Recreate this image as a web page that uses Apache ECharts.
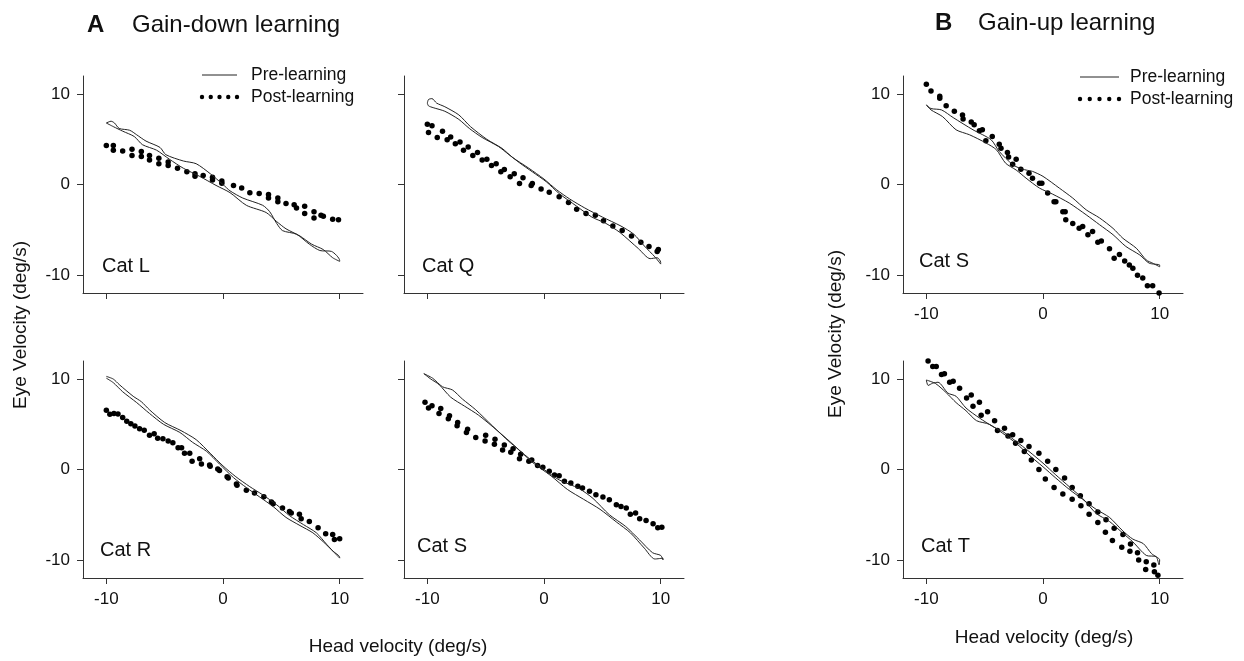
<!DOCTYPE html>
<html><head><meta charset="utf-8">
<script src="https://cdn.jsdelivr.net/npm/echarts@6/dist/echarts.min.js"></script>
<style>html,body{margin:0;padding:0;background:#fff}#c{width:1244px;height:661px}</style>
</head><body><div id="c"></div>
<script>
// ---------- data ----------
const tickValues = [-10, 0, 10];

const catL_pre = [[-10,6.8],[-9.6,7.0],[-9.3,6.8],[-8.9,6.2],[-8.0,6.0],[-7.4,5.5],[-6.6,4.8],[-5.4,4.1],[-4.9,3.3],[-3.4,2.6],[-2.3,2.3],[-1.1,1.2],[0,0.0],[0.6,-0.7],[1.7,-1.5],[3.4,-2.3],[4.0,-3.0],[4.6,-4.3],[5.1,-5.1],[6.3,-5.5],[7.4,-6.6],[8.3,-7.3],[9.3,-7.4],[10,-8.4],
  [10,-8.5],[9.4,-8.1],[8.6,-7.2],[7.6,-6.6],[6.6,-5.7],[5.4,-4.9],[4.6,-4.1],[3.7,-3.1],[2.0,-2.3],[0.6,-0.9],[-0.6,-0.1],[-2.0,0.9],[-3.4,1.8],[-4.6,2.8],[-5.7,3.8],[-6.9,4.4],[-7.6,5.3],[-8.6,5.9],[-9.4,6.4],[-10,6.8]];
const catL_post = [[-10,4.3],[-9.4,4.3],[-9.4,3.8],[-8.6,3.7],[-7.8,3.9],[-7.8,3.2],[-7.0,3.65],[-7.0,3.1],[-6.3,3.2],[-6.3,2.7],[-5.5,2.9],[-5.5,2.3],[-4.7,2.5],[-4.7,2.1],[-3.9,1.8],[-3.1,1.4],[-2.4,1.2],[-2.4,0.9],[-1.7,1.0],[-0.9,0.8],[-0.9,0.5],[-0.1,0.4],[-0.1,0.15],[0.9,-0.1],[1.6,-0.4],[2.3,-0.9],[3.1,-1.0],[3.9,-1.1],[3.9,-1.5],[4.7,-1.5],[4.7,-1.9],[5.4,-2.1],[6.1,-2.25],[6.3,-2.6],[7.0,-2.4],[7.0,-3.2],[7.8,-3.0],[7.8,-3.7],[8.4,-3.4],[8.6,-3.5],[9.4,-3.85],[9.9,-3.9]];

const catQ_pre = [[-10,9.0],[-9.9,9.4],[-9.6,9.5],[-9.2,9.0],[-8.5,8.6],[-7.3,7.7],[-6.3,6.4],[-4.9,5.0],[-3.6,4.0],[-2.7,3.0],[-1.3,1.8],[0,0.6],[1.1,-0.6],[2.2,-1.6],[3.5,-2.6],[5.0,-3.6],[6.6,-4.6],[7.7,-5.5],[8.6,-6.8],[9.5,-8.0],[10,-8.8],
  [10,-8.6],[9.7,-8.1],[9.1,-8.2],[8.1,-7.1],[6.5,-5.3],[5.3,-4.3],[4.1,-3.6],[2.8,-2.4],[1.3,-1.0],[0.2,0.3],[-1.0,1.4],[-2.1,2.4],[-3.0,3.3],[-3.9,4.2],[-5.3,5.2],[-6.4,6.2],[-7.3,7.2],[-8.5,8.1],[-9.5,8.5],[-9.9,8.7],[-10,9.0]];
const catQ_post = [[-10,6.65],[-9.6,6.5],[-9.9,5.75],[-9.15,5.2],[-8.7,5.9],[-8.3,4.95],[-8.0,5.25],[-7.6,4.5],[-7.2,4.7],[-6.9,3.8],[-6.5,4.15],[-6.1,3.2],[-5.7,3.55],[-5.3,2.7],[-4.9,2.8],[-4.5,2.1],[-4.1,2.3],[-3.7,1.4],[-3.4,1.65],[-2.9,0.85],[-2.55,1.2],[-2.1,0.1],[-1.8,0.75],[-1.1,-0.1],[-1.0,0.1],[-0.25,-0.5],[0.45,-0.85],[1.3,-1.35],[2.1,-2.0],[2.8,-2.75],[3.6,-3.2],[4.4,-3.4],[5.1,-4.0],[5.9,-4.6],[6.7,-5.1],[7.5,-5.7],[8.3,-6.4],[9.0,-6.85],[9.8,-7.2],[9.7,-7.4]];

const catR_pre = [[-10,10.3],[-9.4,10.0],[-8.9,9.4],[-7.7,8.1],[-7.0,7.5],[-6.3,6.6],[-5.0,5.2],[-3.6,4.3],[-2.3,3.3],[-1.1,1.8],[0,0.4],[1.1,-0.8],[2.3,-1.9],[3.4,-2.8],[4.6,-3.9],[5.7,-5.1],[6.9,-6.1],[8.0,-7.0],[8.9,-8.3],[9.7,-9.4],[10,-9.8],
  [10,-9.7],[9.4,-9.0],[8.6,-8.0],[7.7,-7.0],[6.6,-6.2],[5.4,-5.3],[4.3,-4.1],[3.1,-3.0],[2.0,-2.0],[0.9,-0.9],[-0.3,0.6],[-1.4,2.0],[-2.6,3.0],[-3.7,4.1],[-5.1,5.0],[-6.3,6.2],[-7.4,7.4],[-8.6,8.6],[-9.4,9.6],[-10,10.1]];
const catR_post = [[-10,6.55],[-9.7,6.1],[-9.35,6.2],[-9.0,6.15],[-8.6,5.75],[-8.25,5.35],[-7.9,5.05],[-7.55,4.8],[-7.15,4.5],[-6.75,4.35],[-6.3,3.8],[-5.9,3.95],[-5.6,3.45],[-5.15,3.4],[-4.7,3.15],[-4.3,2.95],[-3.85,2.4],[-3.55,2.4],[-3.3,1.8],[-2.85,1.8],[-2.65,0.9],[-2.0,1.2],[-1.85,0.6],[-1.15,0.5],[-1.1,0.35],[-0.45,0.05],[-0.3,-0.1],[0.35,-0.8],[0.45,-0.95],[1.15,-1.6],[1.2,-1.75],[2.0,-2.3],[2.7,-2.6],[3.5,-3.0],[4.15,-3.6],[4.3,-3.8],[5.1,-4.25],[5.7,-4.65],[5.85,-4.8],[6.55,-4.95],[6.7,-5.45],[7.4,-5.75],[8.15,-6.45],[8.8,-7.1],[9.4,-7.2],[9.55,-7.75],[10.0,-7.65]];

const catSa_pre = [[-10.3,10.6],[-9.55,10.1],[-8.7,9.15],[-7.85,8.8],[-7.0,7.8],[-5.85,6.6],[-4.4,4.8],[-3.0,3.1],[-1.25,1.2],[0,0],[1.3,-1.15],[3.0,-2.1],[4.2,-3.2],[5.6,-5.0],[7.0,-6.3],[8.2,-7.8],[9.3,-9.2],[10.0,-9.5],[10.2,-10.0],
  [10.2,-9.8],[9.5,-9.9],[8.6,-8.7],[7.4,-7.0],[6.2,-5.8],[4.8,-4.4],[3.4,-3.3],[2.0,-2.2],[0.6,-0.7],[-1.0,0.8],[-2.5,2.6],[-4.0,4.3],[-5.6,6.0],[-6.8,7.0],[-8.0,8.0],[-9.0,9.4],[-9.7,10.0],[-10.3,10.6]];
const catSa_post = [[-10.2,7.45],[-9.9,6.8],[-9.6,7.05],[-9.0,6.2],[-8.85,6.75],[-8.2,5.6],[-8.1,5.95],[-7.45,4.85],[-7.4,5.2],[-6.65,4.1],[-6.55,4.45],[-5.85,3.55],[-5.05,3.15],[-5.0,3.8],[-4.25,2.8],[-4.2,3.35],[-3.55,2.15],[-3.4,2.7],[-2.85,1.9],[-2.65,2.3],[-2.1,1.2],[-2.0,1.7],[-1.3,0.9],[-1.05,1.05],[-0.55,0.45],[-0.1,0.25],[0.45,-0.2],[0.9,-0.6],[1.3,-0.7],[1.75,-1.3],[2.3,-1.5],[2.9,-1.85],[3.3,-2.05],[3.9,-2.4],[4.45,-2.8],[5.05,-3.05],[5.6,-3.35],[6.2,-3.9],[6.6,-4.1],[7.05,-4.25],[7.4,-4.95],[7.85,-4.8],[8.2,-5.45],[8.75,-5.65],[9.35,-6.0],[9.75,-6.45],[10.1,-6.4]];

const catSb_pre = [[-10,8.8],[-9.6,8.4],[-8.7,8.25],[-7.7,7.4],[-6.0,6.05],[-4.45,4.95],[-3.75,3.65],[-2.6,2.2],[-2.0,1.8],[-1.45,1.6],[-0.9,1.45],[0,0.9],[1.4,-0.4],[2.55,-1.5],[3.7,-2.8],[4.85,-3.7],[6.0,-4.85],[6.85,-5.95],[8.0,-7.05],[8.85,-8.35],[9.4,-8.7],[10,-9.1],
  [10,-8.9],[9.1,-8.7],[8.3,-7.8],[7.1,-6.85],[6.0,-5.55],[4.85,-4.45],[3.7,-3.35],[2.25,-2.05],[0.8,-1.05],[-0.3,-0.4],[-1.45,0.7],[-2.3,1.6],[-3.2,2.35],[-4.0,3.85],[-4.9,4.6],[-6.3,5.5],[-7.45,6.05],[-8.6,7.5],[-9.6,8.25],[-10,8.8]];
const catSb_post = [[-10,11.1],[-9.6,10.35],[-8.85,9.75],[-8.85,9.55],[-8.3,8.7],[-7.6,8.1],[-6.9,7.7],[-6.85,7.25],[-6.15,6.9],[-5.9,6.6],[-5.45,5.95],[-5.2,6.05],[-4.9,4.85],[-4.35,5.3],[-3.75,4.45],[-3.6,4.0],[-3.05,3.55],[-2.95,3.05],[-2.6,2.25],[-2.3,2.8],[-1.9,1.7],[-1.2,1.25],[-0.9,0.7],[-0.3,0.15],[-0.1,0.15],[0.4,-0.95],[0.95,-1.9],[1.1,-1.9],[1.7,-3.0],[1.9,-3.0],[1.95,-3.9],[2.55,-4.3],[3.1,-4.85],[3.4,-4.65],[3.85,-5.55],[4.25,-5.2],[4.7,-6.4],[5.0,-6.25],[5.7,-7.1],[6.1,-8.15],[6.55,-7.75],[7.0,-8.45],[7.4,-8.9],[7.7,-9.25],[8.1,-10.05],[8.55,-10.35],[8.95,-11.2],[9.4,-11.2],[9.95,-12.0]];

const catT_pre = [[-10,9.9],[-9.85,9.3],[-9.45,9.55],[-9.0,9.65],[-8.15,8.45],[-7.45,8.1],[-6.6,6.8],[-5.45,5.7],[-4.3,4.75],[-3.45,4.2],[-2.3,3.1],[-1.2,2.0],[0,0.7],[1.1,-0.6],[2.25,-1.9],[3.4,-3.2],[4.55,-4.85],[5.7,-5.75],[6.85,-7.05],[7.7,-8.0],[8.85,-9.5],[9.7,-9.65],[9.95,-10.55],
  [10,-10.0],[9.3,-9.3],[8.6,-8.2],[7.7,-7.7],[6.85,-6.8],[5.7,-5.3],[4.55,-4.4],[3.4,-3.3],[2.25,-2.2],[1.1,-0.95],[0,0.3],[-1.2,1.6],[-2.3,2.9],[-3.45,4.0],[-4.6,5.0],[-5.7,5.4],[-6.6,6.5],[-7.45,7.4],[-8.3,8.5],[-9.2,9.5],[-10,9.9]];
const catT_post = [[-9.85,12.0],[-9.45,11.4],[-9.15,11.4],[-8.7,10.5],[-8.45,10.6],[-8.0,9.65],[-7.7,9.75],[-7.15,9.0],[-6.55,7.9],[-6.15,8.25],[-6.0,7.0],[-5.45,7.45],[-5.3,6.0],[-4.75,6.4],[-4.15,5.4],[-3.9,4.3],[-3.3,4.55],[-3.0,3.7],[-2.6,3.85],[-2.35,2.9],[-1.9,3.2],[-1.6,2.0],[-1.2,2.55],[-1.0,1.05],[-0.35,1.8],[-0.35,0.0],[0.2,-1.05],[0.4,0.9],[0.95,-2.0],[1.1,0.0],[1.7,-2.7],[1.85,-0.95],[2.5,-3.3],[2.5,-2.0],[3.2,-2.9],[3.25,-4.0],[3.95,-4.95],[3.95,-3.8],[4.7,-4.7],[4.7,-5.85],[5.35,-6.95],[5.4,-5.55],[5.95,-7.85],[6.1,-6.5],[6.75,-8.6],[6.85,-7.2],[7.45,-9.05],[7.5,-8.25],[8.1,-9.2],[8.2,-10.0],[8.8,-11.05],[8.85,-10.2],[9.5,-10.55],[9.55,-11.3],[9.85,-11.7]];

const panelNames = ['Cat L','Cat Q','Cat R','Cat S','Cat S','Cat T'];
const preSeries  = [catL_pre, catQ_pre, catR_pre, catSa_pre, catSb_pre, catT_pre];
const postSeries = [catL_post, catQ_post, catR_post, catSa_post, catSb_post, catT_post];

// ---------- layout ----------
const FONT = '"Liberation Sans", Arial, Helvetica, sans-serif';
const layout = [
  {left:83,  top:76,  xl:false, yl:true,  lx:102, ly:267},
  {left:404, top:76,  xl:false, yl:false, lx:422, ly:267},
  {left:83,  top:361, xl:true,  yl:true,  lx:100, ly:551},
  {left:404, top:361, xl:true,  yl:false, lx:417, ly:547},
  {left:903, top:76,  xl:true,  yl:true,  lx:919, ly:262},
  {left:903, top:361, xl:true,  yl:true,  lx:921, ly:547}
];
const W = 280, H = 217;
const axisColor = '#333';

const grids = [], xAxes = [], yAxes = [], series = [], graphics = [];
layout.forEach((p, i) => {
  grids.push({left:p.left, top:p.top, width:W, height:H});
  const common = {
    type:'value', gridIndex:i, min:-12, max:12,
    axisLine:{show:true, onZero:false, lineStyle:{color:axisColor, width:1}},
    axisTick:{show:true, customValues:tickValues, length:6, lineStyle:{color:axisColor, width:1}},
    splitLine:{show:false}
  };
  xAxes.push(Object.assign({}, common, {
    axisLabel:{show:p.xl, customValues:tickValues, fontSize:17, color:'#111', margin:13, fontFamily:FONT}
  }));
  yAxes.push(Object.assign({}, common, {
    axisLabel:{show:p.yl, customValues:tickValues, fontSize:17, color:'#111', margin:13, fontFamily:FONT}
  }));
  series.push({
    name:'Pre-learning', type:'line', xAxisIndex:i, yAxisIndex:i,
    data:preSeries[i], showSymbol:false, smooth:0.25,
    lineStyle:{color:'#222', width:1}, silent:true, animation:false
  });
  series.push({
    name:'Post-learning', type:'scatter', xAxisIndex:i, yAxisIndex:i,
    data:postSeries[i], symbolSize:5.5, itemStyle:{color:'#000', opacity:1}, silent:true, animation:false
  });
  graphics.push({type:'text', left:p.lx, top:p.ly - 11,
    style:{text:panelNames[i], font:'20px ' + FONT, fill:'#111'}});
});

function txt(x, y, s, size, opts) {
  return Object.assign({type:'text', x:x, y:y,
    style:Object.assign({text:s, font:size + 'px ' + FONT, fill:'#111', textVerticalAlign:'middle'}, opts || {})});
}
// titles
graphics.push(txt(87, 25, 'A', 24, {font:'bold 24px ' + FONT}));
graphics.push(txt(132, 25, 'Gain-down learning', 24));
graphics.push(txt(935, 23, 'B', 24, {font:'bold 24px ' + FONT}));
graphics.push(txt(978, 23, 'Gain-up learning', 24));
// axis titles
graphics.push(txt(398, 647, 'Head velocity (deg/s)', 19, {textAlign:'center'}));
graphics.push(txt(1044, 638, 'Head velocity (deg/s)', 19, {textAlign:'center'}));
graphics.push({type:'text', x:21, y:325, rotation:Math.PI/2,
  style:{text:'Eye Velocity (deg/s)', font:'19px ' + FONT, fill:'#111', textAlign:'center', textVerticalAlign:'middle'}});
graphics.push({type:'text', x:836, y:334, rotation:Math.PI/2,
  style:{text:'Eye Velocity (deg/s)', font:'19px ' + FONT, fill:'#111', textAlign:'center', textVerticalAlign:'middle'}});

// legends (A and B)
function legend(x0, x1, y1, y2, tx, size) {
  graphics.push({type:'line', shape:{x1:x0, y1:y1, x2:x1, y2:y1}, style:{stroke:'#222', lineWidth:1}});
  for (let k = 0; k < 5; k++) {
    graphics.push({type:'circle', shape:{cx:x0 + k*(x1-x0)/4, cy:y2, r:2.2}, style:{fill:'#000'}});
  }
  graphics.push(txt(tx, y1, 'Pre-learning', size));
  graphics.push(txt(tx, y2, 'Post-learning', size));
}
legend(202, 237, 75, 97, 251, 17.5);
legend(1080, 1119, 77, 99, 1130, 17.5);

const chart = echarts.init(document.getElementById('c'), null, {renderer:'canvas'});
chart.setOption({
  backgroundColor:'#fff',
  animation:false,
  grid:grids, xAxis:xAxes, yAxis:yAxes, series:series, graphic:graphics
});
</script></body></html>
